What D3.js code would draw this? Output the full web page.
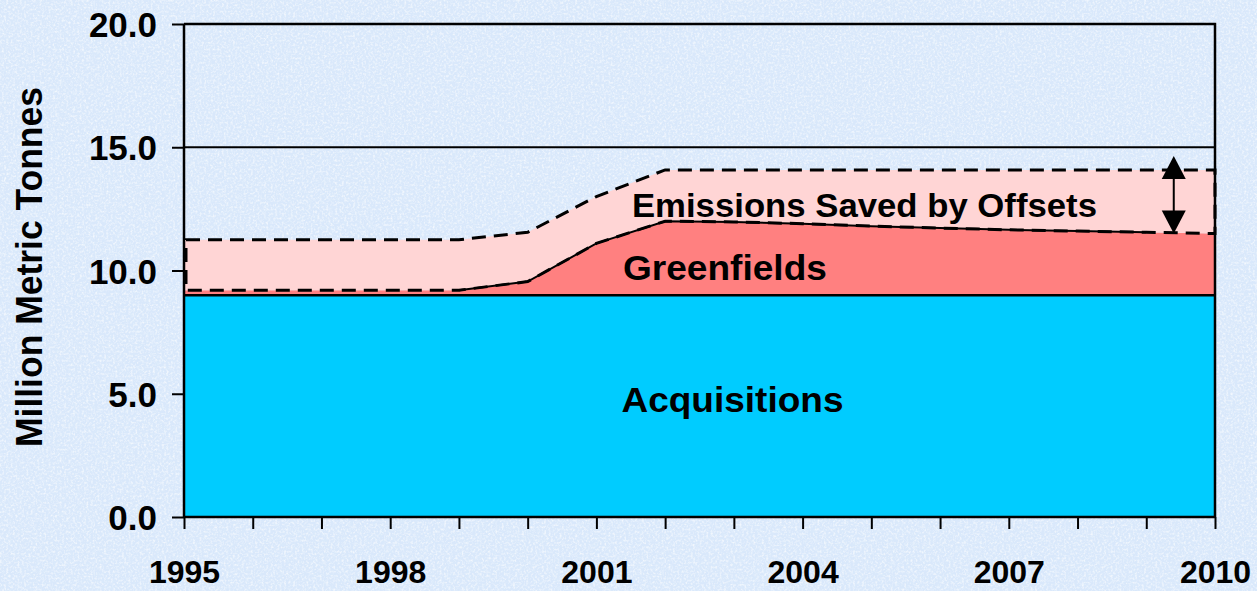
<!DOCTYPE html>
<html><head><meta charset="utf-8">
<script src="https://cdn.jsdelivr.net/npm/d3@7"></script>
<style>html,body{margin:0;padding:0;overflow:hidden;background:#d9e8fb}</style>
</head><body>
<script>
const years = [1995,1996,1997,1998,1999,2000,2001,2002,2003,2004,2005,2006,2007,2008,2009,2010];
const acquisitions = [9.0,9.0,9.0,9.0,9.0,9.0,9.0,9.0,9.0,9.0,9.0,9.0,9.0,9.0,9.0,9.0];
const greenfields  = [0.2,0.2,0.2,0.2,0.2,0.55,2.1,3.0,2.97,2.9,2.8,2.72,2.65,2.6,2.55,2.5];
const offsets      = [2.05,2.05,2.05,2.05,2.05,2.0,1.9,2.08,2.11,2.18,2.28,2.36,2.43,2.48,2.53,2.58];
const yTicks = [0,5,10,15,20];
const xTickLabels = [1995,1998,2001,2004,2007,2010];
const seriesNames = ["Acquisitions","Greenfields","Emissions Saved by Offsets"];
const colors = ["#00ccff","#ff8080","#ffd5d5"];

const W = 1257, H = 591;
const x = d3.scaleLinear().domain([1995,2010]).range([184,1215]);
const y = d3.scaleLinear().domain([0,20]).range([517,24]);
const FONT = "'Liberation Sans', Arial, sans-serif";

const svg = d3.select("body").append("svg").attr("width",W).attr("height",H)
  .style("font-family",FONT).style("font-weight","bold");

const defs = svg.append("defs");
const f = defs.append("filter").attr("id","tex").attr("x",0).attr("y",0).attr("width","100%").attr("height","100%");
f.append("feTurbulence").attr("type","fractalNoise").attr("baseFrequency","0.45").attr("numOctaves",2).attr("seed",4).attr("result","n");
f.append("feColorMatrix").attr("in","n").attr("type","matrix")
  .attr("values","0 0 0 0 1  0 0 0 0 1  0 0 0 0 1  1.6 0 0 0 -0.7");
const f2 = defs.append("filter").attr("id","tex2").attr("x",0).attr("y",0).attr("width","100%").attr("height","100%");
f2.append("feTurbulence").attr("type","fractalNoise").attr("baseFrequency","0.3").attr("numOctaves",1).attr("seed",11).attr("result","n");
f2.append("feColorMatrix").attr("in","n").attr("type","matrix")
  .attr("values","0 0 0 0 0.72  0 0 0 0 0.84  0 0 0 0 0.97  1.6 0 0 0 -0.75");

svg.append("rect").attr("width",W).attr("height",H).attr("fill","#d9e8fb");
svg.append("rect").attr("width",W).attr("height",H).attr("filter","url(#tex2)");
svg.append("rect").attr("width",W).attr("height",H).attr("filter","url(#tex)");

// gridlines
svg.append("g").selectAll("line").data(yTicks.filter(d=>d>0)).join("line")
  .attr("x1",x(1995)).attr("x2",x(2010)).attr("y1",d=>y(d)).attr("y2",d=>y(d))
  .attr("stroke","#000").attr("stroke-width",2);

// stacked areas
const table = years.map((yr,i)=>({year:yr, a:acquisitions[i], g:greenfields[i], o:offsets[i]}));
const stack = d3.stack().keys(["a","g","o"])(table);
const area = d3.area().x(d=>x(d.data.year)).y0(d=>y(d[0])).y1(d=>y(d[1]));
svg.append("g").selectAll("path").data(stack).join("path")
  .attr("d",area).attr("fill",(d,i)=>colors[i]);

// acquisitions top line
svg.append("path").attr("d", d3.line().x(d=>x(d.data.year)).y(d=>y(d[1]))(stack[0]))
  .attr("fill","none").attr("stroke","#000").attr("stroke-width",2.5);
// greenfields top solid line (from 1999 onward)
svg.append("path").attr("d", d3.line().x(d=>x(d.data.year)).y(d=>y(d[1]))(stack[1].filter(d=>d.data.year>=1999 && d.data.year<=2009)))
  .attr("fill","none").attr("stroke","#000").attr("stroke-width",2);
// dashed outline of offsets band
const band = stack[2];
const outline = band.map(d=>[x(d.data.year), y(d[1])])
  .concat(band.slice().reverse().map(d=>[x(d.data.year), y(d[0])]));
outline[0][0] += 2; outline[outline.length-1][0] += 2;
svg.append("path").attr("d", d3.line()(outline)+"Z")
  .attr("fill","none").attr("stroke","#000").attr("stroke-width",3)
  .attr("stroke-dasharray","14,8");

// frame
svg.append("path").attr("d",`M${x(1995)},${y(20)}H${x(2010)}V${y(0)}`)
  .attr("fill","none").attr("stroke","#000").attr("stroke-width",2.5);

// axes
const yAxis = d3.axisLeft(y).tickValues(yTicks).tickSize(12).tickFormat(d3.format(".1f"));
const gy = svg.append("g").attr("transform",`translate(${x(1995)},0)`).call(yAxis);
gy.select(".domain").attr("stroke-width",2.5).attr("d",`M0,${y(20)}V${y(0)}`);
gy.selectAll(".tick line").attr("stroke-width",2);
gy.selectAll(".tick text").attr("x",-27).attr("dy","0.36em").attr("font-size",35).attr("fill","#000")
  .attr("font-family",FONT).attr("font-weight","bold");

const xAxis = d3.axisBottom(x).tickValues(years).tickSize(12).tickFormat(d=>xTickLabels.includes(d)?d:"");
const gx = svg.append("g").attr("transform",`translate(0,${y(0)})`).call(xAxis);
gx.select(".domain").attr("stroke-width",2.5).attr("d",`M${x(1995)},0H${x(2010)}`);
gx.selectAll(".tick line").attr("stroke-width",2);
gx.selectAll(".tick text").attr("y",66).attr("dy",0).attr("font-size",32).attr("fill","#000")
  .attr("font-family",FONT).attr("font-weight","bold");

// y title
svg.append("text").attr("transform",`translate(42,267) rotate(-90)`)
  .attr("text-anchor","middle").attr("font-size",36).attr("textLength",360).attr("lengthAdjust","spacingAndGlyphs")
  .text("Million Metric Tonnes");

// series labels
svg.append("text").attr("x",x(2002.98)).attr("y",y(4.26)).attr("text-anchor","middle").attr("font-size",35)
  .attr("textLength",222).attr("lengthAdjust","spacingAndGlyphs").text(seriesNames[0]);
svg.append("text").attr("x",x(2002.87)).attr("y",y(9.61)).attr("text-anchor","middle").attr("font-size",35)
  .attr("textLength",204).attr("lengthAdjust","spacingAndGlyphs").text(seriesNames[1]);
svg.append("text").attr("x",x(2004.9)).attr("y",y(12.17)).attr("text-anchor","middle").attr("font-size",33)
  .attr("textLength",465).attr("lengthAdjust","spacingAndGlyphs").text(seriesNames[2]);

// double arrow
const ax = x(2009.4), last = stack[2][stack[2].length-1];
const yt = y(last[1]) - 14, yb = y(last[0]);
const arr = svg.append("g");
arr.append("line").attr("x1",ax).attr("x2",ax).attr("y1",yt+10).attr("y2",yb-10).attr("stroke","#000").attr("stroke-width",2);
arr.append("path").attr("d",`M${ax},${yt}L${ax-12},${yt+23}L${ax+12},${yt+23}Z`).attr("fill","#000");
arr.append("path").attr("d",`M${ax},${yb}L${ax-12},${yb-23}L${ax+12},${yb-23}Z`).attr("fill","#000");
</script>
</body></html>
